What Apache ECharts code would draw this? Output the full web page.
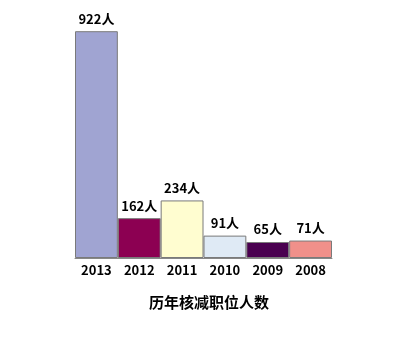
<!DOCTYPE html>
<html><head><meta charset="utf-8">
<script src="https://cdn.jsdelivr.net/npm/echarts@6/dist/echarts.min.js"></script>
<style>html,body{margin:0;padding:0;background:#fff;}#c{width:410px;height:347px;}</style>
</head><body><div id="c"></div>
<script>
const categories = ['2013','2012','2011','2010','2009','2008'];
const values = [922,162,234,91,65,71];
const colors = ['#a0a4d2','#8c0052','#fffdd0','#dfeaf5','#4a0050','#f0908a'];
const title = '历年核减职位人数';
const chart = echarts.init(document.getElementById('c'));
chart.setOption({
  animation:false,
  backgroundColor:'#fff',
  title:{text:title,left:204,textAlign:'center',top:290,textStyle:{fontSize:15,fontWeight:'bold',color:'#000',fontFamily:'Noto Sans CJK SC'}},
  grid:{left:75,width:257,bottom:89,top:12},
  xAxis:{type:'category',data:categories,axisTick:{show:false},
    axisLine:{lineStyle:{color:'#888',width:1}},
    axisLabel:{color:'#000',fontWeight:'bold',fontSize:13,margin:6,fontFamily:'Noto Sans CJK SC'}},
  yAxis:{type:'value',min:0,max:1000,show:false,splitLine:{show:false}},
  series:[{type:'bar',barCategoryGap:'0%',
    data:values.map((v,i)=>({value:v,itemStyle:{color:colors[i]}})),
    itemStyle:{borderColor:'#7a7a7a',borderWidth:1},
    label:{show:true,position:'top',distance:6,formatter:'{c}人',color:'#000',fontWeight:'bold',fontSize:13,fontFamily:'Noto Sans CJK SC'}}]
});
</script></body></html>
